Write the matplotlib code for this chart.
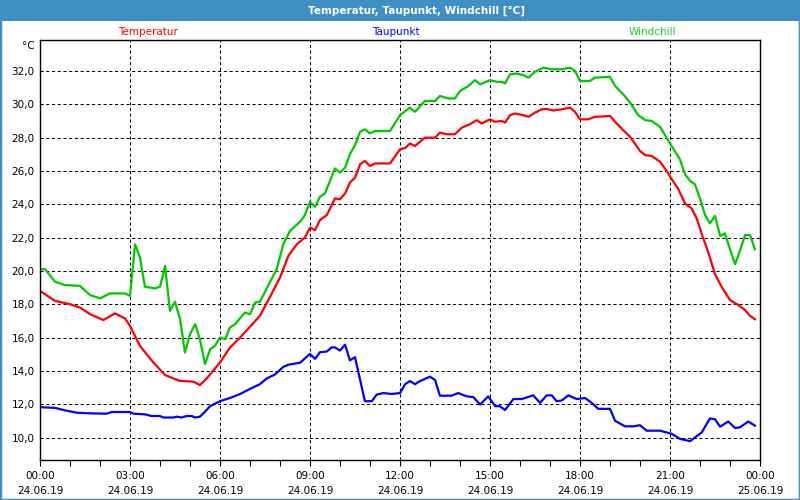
import matplotlib
matplotlib.use('Agg')
import matplotlib.pyplot as plt
from matplotlib.patches import Rectangle
from matplotlib.ticker import FuncFormatter, MultipleLocator

# Temperatur (red)
temp_hours = [0, 0.5, 1.0, 1.33, 1.67, 2.11, 2.5, 2.83, 3.0, 3.33, 3.78, 4.17, 4.44, 4.67,
              5.11, 5.33, 5.56, 6.0, 6.33, 6.67, 7.33, 7.67, 8.0, 8.28, 8.56, 8.83, 9.0,
              9.17, 9.33, 9.56, 9.83, 10.0, 10.17, 10.33, 10.5, 10.67, 10.83, 11.0, 11.17,
              11.67, 12.0, 12.17, 12.33, 12.5, 12.83, 13.17, 13.33, 13.56, 13.83, 14.06,
              14.33, 14.56, 14.72, 15.0, 15.17, 15.39, 15.5, 15.67, 15.83, 16.11, 16.28,
              16.5, 16.72, 16.89, 17.11, 17.39, 17.67, 17.83, 18.0, 18.28, 18.5, 19.0,
              19.17, 19.44, 19.67, 20.0, 20.17, 20.39, 20.67, 20.89, 21.06, 21.28, 21.5,
              21.72, 21.89, 22.06, 22.28, 22.5, 22.72, 23.0, 23.28, 23.5, 23.67, 23.83]
temp_values = [18.8, 18.2, 18.0, 17.8, 17.4, 17.05, 17.45, 17.15, 16.7, 15.5, 14.5, 13.75,
               13.55, 13.4, 13.35, 13.15, 13.55, 14.5, 15.4, 16.0, 17.3, 18.45, 19.6, 20.9,
               21.6, 22.0, 22.6, 22.45, 23.05, 23.35, 24.35, 24.3, 24.65, 25.3, 25.6, 26.4,
               26.6, 26.3, 26.45, 26.45, 27.3, 27.37, 27.65, 27.5, 28.0, 28.0, 28.3, 28.2,
               28.2, 28.6, 28.8, 29.05, 28.85, 29.1, 28.95, 29.0, 28.9, 29.35, 29.45, 29.35,
               29.25, 29.5, 29.7, 29.72, 29.63, 29.7, 29.8, 29.55, 29.1, 29.1, 29.25, 29.3,
               28.95, 28.45, 28.05, 27.2, 26.95, 26.9, 26.55, 26.0, 25.5, 24.9, 24.05, 23.75,
               23.15, 22.2, 21.1, 19.8, 19.05, 18.25, 17.95, 17.65, 17.3, 17.1]

# Taupunkt (blue)
dew_hours = [0, 0.5, 0.83, 1.22, 1.67, 2.22, 2.39, 3.0, 3.11, 3.5, 3.72, 4.0, 4.11, 4.44,
             4.56, 4.72, 4.89, 5.06, 5.17, 5.33, 5.5, 5.67, 6.0, 6.33, 6.67, 7.0, 7.33,
             7.56, 7.83, 8.11, 8.28, 8.67, 9.0, 9.17, 9.33, 9.56, 9.72, 9.83, 10.0, 10.17,
             10.33, 10.5, 10.61, 10.83, 11.06, 11.22, 11.44, 11.72, 12.0, 12.17, 12.33,
             12.5, 12.67, 13.0, 13.17, 13.33, 13.72, 13.94, 14.22, 14.44, 14.67, 14.94,
             15.17, 15.33, 15.5, 15.78, 16.06, 16.44, 16.67, 16.89, 17.06, 17.22, 17.39,
             17.61, 17.89, 18.17, 18.39, 18.61, 19.0, 19.17, 19.5, 19.78, 20.0, 20.22,
             20.67, 21.06, 21.33, 21.67, 22.06, 22.33, 22.5, 22.67, 22.94, 23.17, 23.33,
             23.61, 23.83]
dew_values = [11.82, 11.78, 11.63, 11.49, 11.45, 11.43, 11.53, 11.53, 11.43, 11.39, 11.29,
              11.29, 11.2, 11.2, 11.25, 11.2, 11.29, 11.29, 11.2, 11.25, 11.55, 11.88, 12.18,
              12.37, 12.61, 12.92, 13.2, 13.55, 13.78, 14.24, 14.37, 14.49, 15.02, 14.72,
              15.12, 15.16, 15.41, 15.41, 15.22, 15.57, 14.63, 14.82, 13.94, 12.18, 12.18,
              12.57, 12.67, 12.61, 12.67, 13.2, 13.39, 13.2, 13.39, 13.65, 13.45, 12.51,
              12.51, 12.67, 12.47, 12.43, 11.98, 12.47, 11.88, 11.88, 11.65, 12.31, 12.31,
              12.53, 12.08, 12.53, 12.53, 12.18, 12.22, 12.53, 12.31, 12.37, 12.08, 11.72,
              11.72, 11.0, 10.67, 10.67, 10.74, 10.41, 10.41, 10.22, 9.92, 9.78, 10.31,
              11.14, 11.1, 10.65, 10.96, 10.57, 10.61, 10.96, 10.71]

# Windchill (green)
wc_hours = [0, 0.17, 0.5, 0.83, 1.33, 1.67, 2.0, 2.33, 2.83, 3.0, 3.17, 3.33, 3.5, 3.83,
            4.0, 4.17, 4.33, 4.5, 4.67, 4.83, 5.0, 5.17, 5.33, 5.5, 5.67, 5.83, 6.0, 6.17,
            6.33, 6.5, 6.83, 7.0, 7.17, 7.33, 7.67, 7.89, 8.11, 8.33, 8.67, 8.83, 9.0,
            9.17, 9.33, 9.5, 9.83, 10.0, 10.17, 10.33, 10.5, 10.67, 10.83, 11.0, 11.17,
            11.67, 12.0, 12.33, 12.5, 12.83, 13.17, 13.33, 13.61, 13.83, 14.0, 14.28, 14.5,
            14.67, 15.0, 15.22, 15.39, 15.5, 15.67, 15.89, 16.11, 16.28, 16.5, 16.78,
            17.06, 17.39, 17.67, 17.83, 18.0, 18.33, 18.5, 19.0, 19.17, 19.44, 19.67,
            19.94, 20.17, 20.39, 20.67, 21.0, 21.33, 21.5, 21.67, 21.83, 22.0, 22.17,
            22.33, 22.5, 22.67, 22.83, 23.0, 23.17, 23.33, 23.5, 23.67, 23.83]
wc_values = [20.1, 20.1, 19.35, 19.15, 19.1, 18.55, 18.35, 18.65, 18.65, 18.5, 21.6, 20.8,
             19.05, 18.95, 19.05, 20.3, 17.6, 18.15, 17.1, 15.1, 16.2, 16.8, 15.9, 14.4,
             15.3, 15.5, 16.0, 15.9, 16.6, 16.8, 17.5, 17.4, 18.1, 18.15, 19.35, 20.1, 21.6,
             22.4, 22.95, 23.35, 24.15, 23.85, 24.45, 24.65, 26.15, 25.9, 26.2, 27.0, 27.55,
             28.35, 28.5, 28.25, 28.4, 28.4, 29.35, 29.8, 29.55, 30.2, 30.2, 30.5, 30.35,
             30.35, 30.8, 31.1, 31.45, 31.2, 31.45, 31.35, 31.35, 31.25, 31.8, 31.85, 31.75,
             31.6, 31.95, 32.2, 32.1, 32.1, 32.2, 32.0, 31.4, 31.4, 31.6, 31.65, 31.1, 30.6,
             30.1, 29.35, 29.05, 29.0, 28.65, 27.65, 26.7, 25.8, 25.4, 25.2, 24.35, 23.35,
             22.85, 23.3, 22.1, 22.25, 21.3, 20.4, 21.2, 22.15, 22.15, 21.3]

x_ticks = [0, 3, 6, 9, 12, 15, 18, 21, 24]
x_labels = ['00:00\n24.06.19', '03:00\n24.06.19', '06:00\n24.06.19', '09:00\n24.06.19',
            '12:00\n24.06.19', '15:00\n24.06.19', '18:00\n24.06.19', '21:00\n24.06.19',
            '00:00\n25.06.19']

red = '#ff0000'
blue = '#0000ff'
green = '#00c800'

fig = plt.figure(figsize=(8, 5), dpi=100, facecolor='white')
ax = fig.add_axes([0.05, 0.08, 0.9, 0.84])

ax.plot(temp_hours, temp_values, color=red, lw=1.6)
ax.plot(dew_hours, dew_values, color=blue, lw=1.6)
ax.plot(wc_hours, wc_values, color=green, lw=1.6)

ax.set_xlim(0, 24)
ax.set_ylim(8.65, 33.86)
ax.set_xticks(x_ticks)
ax.set_xticklabels(x_labels, linespacing=1.6)
ax.xaxis.set_minor_locator(MultipleLocator(1))
ax.set_yticks(range(10, 33, 2))
ax.yaxis.set_major_formatter(FuncFormatter(lambda v, p: f'{v:.1f}'.replace('.', ',')))
ax.tick_params(axis='x', which='both', direction='out', length=4, width=0.8,
               labelsize=7.5, pad=4)
ax.tick_params(axis='y', length=0, labelsize=7.5, pad=4)
ax.grid(True, color='black', lw=0.75, linestyle=(0, (3, 2.5)))
for s in ax.spines.values():
    s.set_linewidth(1)

ax.text(-0.008, 0.985, '°C', transform=ax.transAxes, ha='right', va='center', fontsize=7.5)

# Labels above the plot
fig.text(148 / 800, 1 - 32 / 500, 'Temperatur', color=red, ha='center', va='center', fontsize=7.5)
fig.text(396 / 800, 1 - 32 / 500, 'Taupunkt', color=blue, ha='center', va='center', fontsize=7.5)
fig.text(652 / 800, 1 - 32 / 500, 'Windchill', color='#22cc22', ha='center', va='center', fontsize=7.5)

# title bar and window border
fig.patches.append(Rectangle((0, 1 - 21 / 500), 1, 21 / 500, transform=fig.transFigure,
                             facecolor='#3d8fc4', edgecolor='none', zorder=0))
fig.text(0.52, 1 - 10.5 / 500, 'Temperatur, Taupunkt, Windchill [°C]', color='white',
         ha='center', va='center', fontsize=7.5, fontweight='bold')
fig.patches.append(Rectangle((0, 0), 1, 1, transform=fig.transFigure, facecolor='none',
                             edgecolor='#3d8fc4', lw=2.5, zorder=5))

fig.savefig('out.png', dpi=100)
